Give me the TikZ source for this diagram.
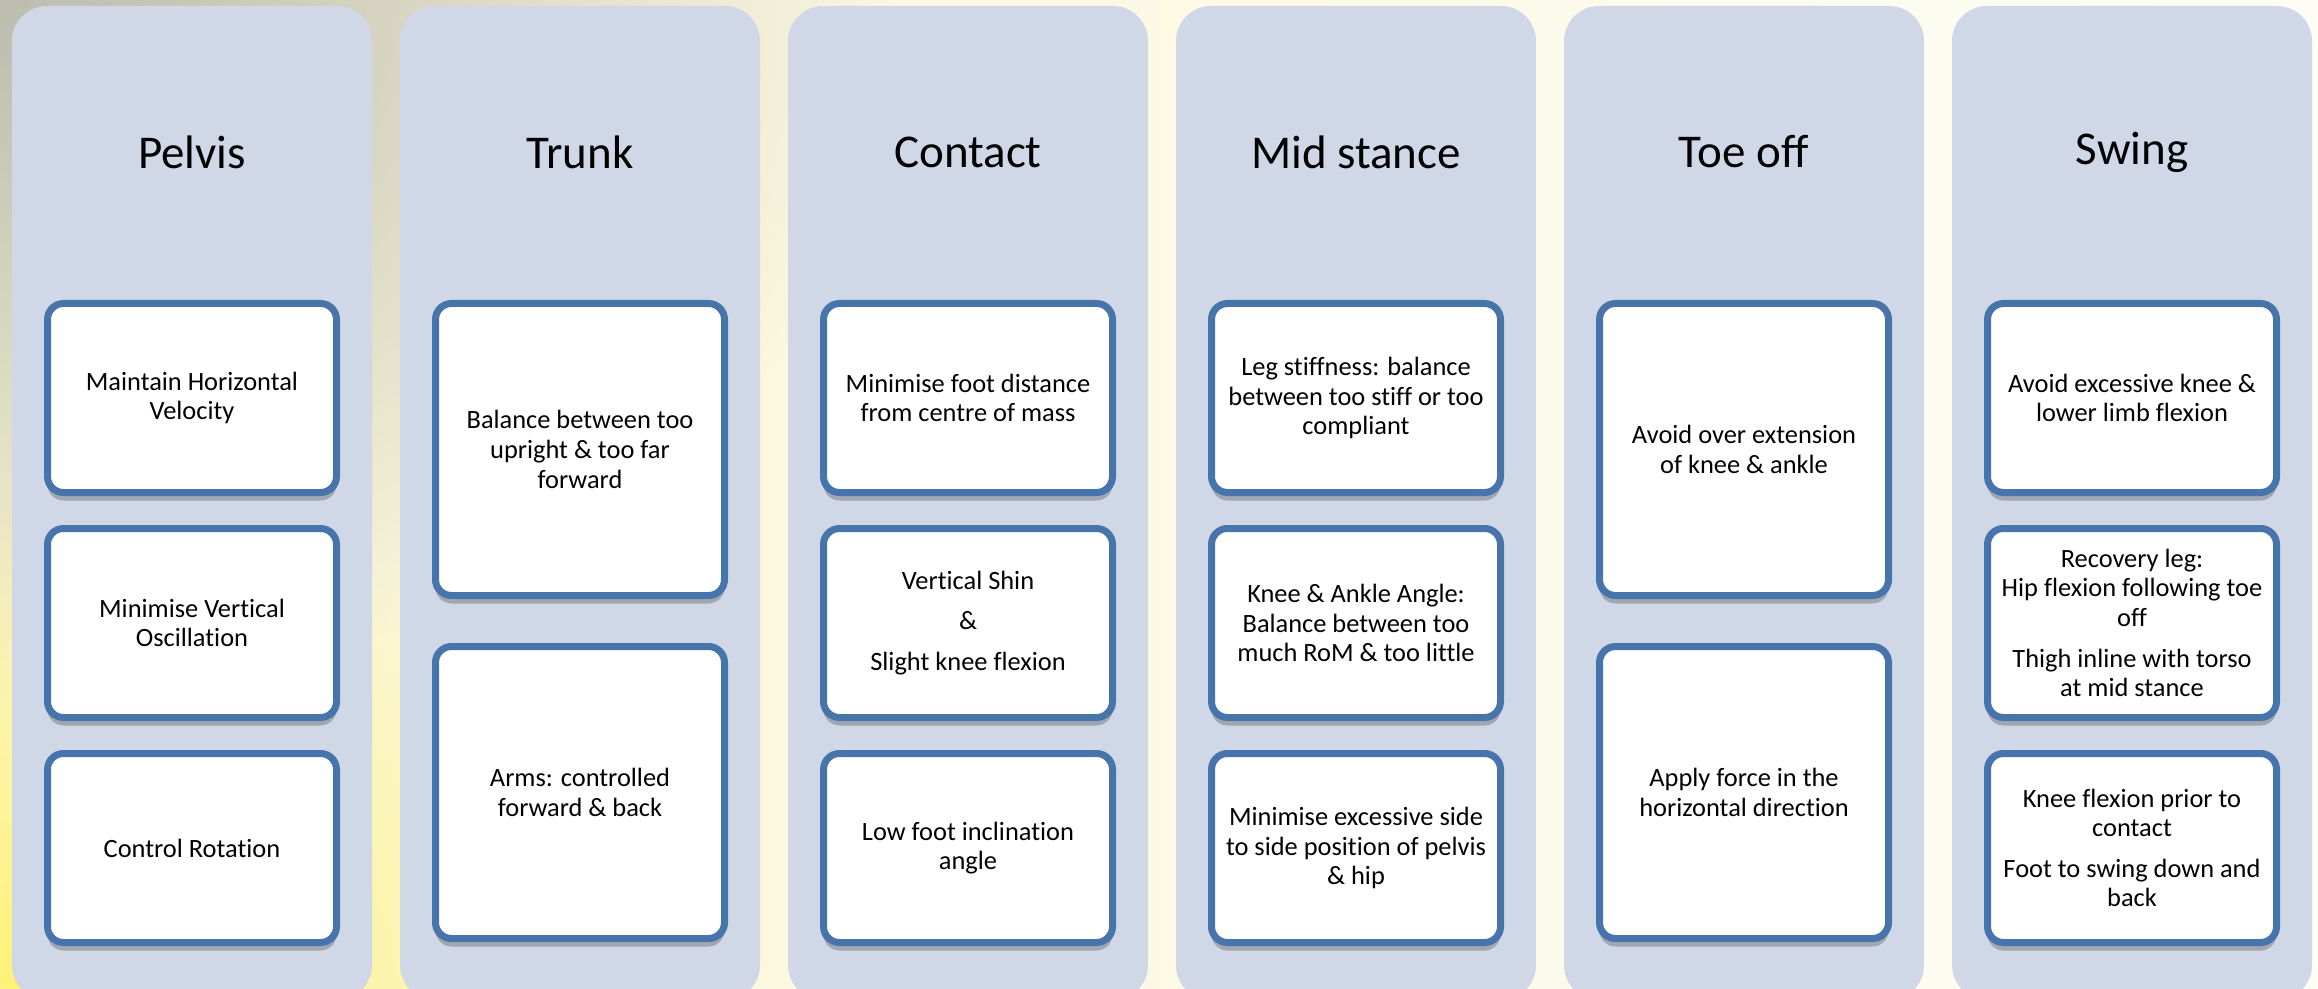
\documentclass[tikz,border=0pt]{standalone}
\usepackage{fontspec}
\setmainfont{Carlito}[Ligatures={NoCommon}]
\usetikzlibrary{shadows,fadings}
\definecolor{colfill}{RGB}{208,216,232}
\definecolor{boxline}{RGB}{71,116,170}
\definecolor{bggray}{RGB}{188,188,176}
\definecolor{bgyellow}{RGB}{255,242,120}
\definecolor{bgleft}{RGB}{250,246,212}
\definecolor{bgright}{RGB}{253,253,246}
\tikzfading[name=cornerfade, inner color=transparent!0, outer color=transparent!100]

\begin{document}
\begin{tikzpicture}[x=0.5pt,y=-0.5pt,
  lane/.style={fill=colfill, rounded corners=17.5pt},
  heading/.style={font=\fontsize{23.5}{28}\selectfont},
  item/.style={draw=boxline, line width=3.5pt, fill=white, rounded corners=8pt,
    minimum width=144.5pt, align=center, font=\fontsize{13.2}{14.8}\selectfont,
    drop shadow={shadow xshift=0pt, shadow yshift=-4pt, opacity=.35, fill=black!70}},
  itemshort/.style={item, minimum height=94.5pt},
  itemtall/.style={item, minimum height=146pt}]
\useasboundingbox (0,0) rectangle (2318,989);
% background
\shade[left color=bgleft, right color=bgright] (0,0) rectangle (2318,989);
\fill[bggray, path fading=cornerfade] (-900,-700) rectangle (900,700);
\fill[bgyellow, path fading=cornerfade] (-700,489) rectangle (700,1489);

% the six lanes
\fill[lane] (12,6) rectangle (372,1000);
\fill[lane] (400,6) rectangle (760,1000);
\fill[lane] (788,6) rectangle (1148,1000);
\fill[lane] (1176,6) rectangle (1536,1000);
\fill[lane] (1564,6) rectangle (1924,1000);
\fill[lane] (1952,6) rectangle (2312,1000);

% headings
\node[heading] (pelvis) at (192,152) {Pelvis};
\node[heading] (trunk) at (580,152) {Trunk};
\node[heading] (contact) at (968,152) {Contact};
\node[heading] (midstance) at (1356,152) {Mid stance};
\node[heading] (toeoff) at (1744,152) {Toe off};
\node[heading] (swing) at (2132,152) {Swing};

% Pelvis
\node[itemshort] (pelvisA) at (192,398) {Maintain Horizontal\\Velocity};
\node[itemshort] (pelvisB) at (192,623) {Minimise Vertical\\Oscillation};
\node[itemshort] (pelvisC) at (192,848) {Control Rotation};

% Trunk
\node[itemtall] (trunkA) at (580,449.5) {Balance between too\\upright \& too far\\forward};
\node[itemtall] (trunkB) at (580,792.5) {Arms: controlled\\forward \& back};

% Contact
\node[itemshort] (contactA) at (968,398) {Minimise foot distance\\from centre of mass};
\node[itemshort] (contactB) at (968,623) {Vertical Shin\\[5.5pt]\&\\[5.5pt]Slight knee flexion};
\node[itemshort] (contactC) at (968,848) {Low foot inclination\\angle};

% Mid stance
\node[itemshort] (midA) at (1356,398) {Leg stiffness: balance\\between too stiff or too\\compliant};
\node[itemshort] (midB) at (1356,623) {Knee \& Ankle Angle:\\Balance between too\\much RoM \& too little};
\node[itemshort] (midC) at (1356,848) {Minimise excessive side\\to side position of pelvis\\\& hip};

% Toe off
\node[itemtall] (toeA) at (1744,449.5) {Avoid over extension\\of knee \& ankle};
\node[itemtall] (toeB) at (1744,792.5) {Apply force in the\\horizontal direction};

% Swing
\node[itemshort] (swingA) at (2132,398) {Avoid excessive knee \&\\lower limb flexion};
\node[itemshort] (swingB) at (2132,623) {Recovery leg:\\Hip flexion following toe\\off\\[5.5pt]Thigh inline with torso\\at mid stance};
\node[itemshort] (swingC) at (2132,848) {Knee flexion prior to\\contact\\[5.5pt]Foot to swing down and\\back};
\end{tikzpicture}
\end{document}
